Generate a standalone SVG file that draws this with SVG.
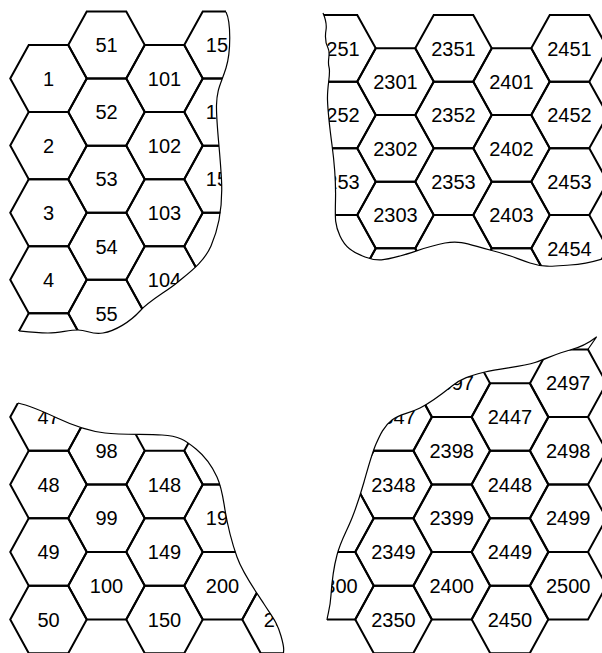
<svg xmlns="http://www.w3.org/2000/svg" width="602" height="653" viewBox="0 0 602 653">
<style>
.hex{fill:none;stroke:#000;stroke-width:2;stroke-linejoin:miter}
.cut{fill:none;stroke:#000;stroke-width:1.2;stroke-linejoin:round}
text{font-family:"Liberation Sans",Arial,sans-serif;font-size:20px;text-anchor:middle;fill:#000}
</style>
<defs>
<path id="hTL" class="hex" d="M-38.25,0 L-19.75,-33.55 L19.75,-33.55 L38.25,0 L19.75,33.55 L-19.75,33.55 Z"/>
<path id="hTR" class="hex" d="M-38.25,0 L-19.75,-33.35 L19.75,-33.35 L38.25,0 L19.75,33.35 L-19.75,33.35 Z"/>
<path id="hB" class="hex" d="M-38.25,0 L-19.75,-33.75 L19.75,-33.75 L38.25,0 L19.75,33.75 L-19.75,33.75 Z"/>
<clipPath id="cTL"><path d="M0,0 L226,0 L226,12 C231,22 231,52 226,68 S217,88 216.5,105 S220,150 221.5,180 S218,230 211,246 S190,272 178,282 S150,300 140,311 S115,331 103,333 S88,330 78,330 S60,333 48,333 S28,332 19,331 L0,331 Z"/></clipPath>
<clipPath id="cTR"><path d="M323,0 L323,13 C326,20 327,24 326,30 S325,42 328,48 S327,60 329,67 S327,85 327.5,100 S330,130 332,145 S336,180 335.5,200 S335,225 340,236 S352,252 365,257 S385,260 400,256 S428,246 445,243 S470,245 490,250 S515,258 530,263 S555,266 570,265 S592,262 602,259 L602,0 Z"/></clipPath>
<clipPath id="cBL"><path d="M0,403 L18,403 C27,405 40,410 57,418 S88,431 105,433 S145,434 162,435 S185,440 196,449 S212,466 217,477 S223,498 225,510 S231,540 237,557 S255,590 264,604 S277,622 281,636 S283.5,648 283.5,653 L0,653 Z"/></clipPath>
<clipPath id="cBR"><path d="M596.5,337 C590,342 582,347 570,350 S548,358 535,362.5 S500,368 485,372 S462,378 452,386 S432,402 420,408 S400,414 392,420 S380,435 376,444 S368,468 364,482 S358,503 352,518 S341,540 337,555 S332,580 331,595 S328,612 327,620 L327,653 L602,653 L602,337 Z"/></clipPath>
</defs>

<g id="top-left" clip-path="url(#cTL)">
<g id="hex-1"><use href="#hTL" x="48.5" y="78.5"/><text x="48.5" y="85.7">1</text></g>
<g id="hex-2"><use href="#hTL" x="48.5" y="145.6"/><text x="48.5" y="152.8">2</text></g>
<g id="hex-3"><use href="#hTL" x="48.5" y="212.7"/><text x="48.5" y="219.9">3</text></g>
<g id="hex-4"><use href="#hTL" x="48.5" y="279.8"/><text x="48.5" y="287">4</text></g>
<g id="hex-5"><use href="#hTL" x="48.5" y="346.9"/></g>
<g id="hex-51"><use href="#hTL" x="106.5" y="45"/><text x="106.5" y="52.2">51</text></g>
<g id="hex-52"><use href="#hTL" x="106.5" y="112.1"/><text x="106.5" y="119.3">52</text></g>
<g id="hex-53"><use href="#hTL" x="106.5" y="179.2"/><text x="106.5" y="186.4">53</text></g>
<g id="hex-54"><use href="#hTL" x="106.5" y="246.3"/><text x="106.5" y="253.5">54</text></g>
<g id="hex-55"><use href="#hTL" x="106.5" y="313.4"/><text x="106.5" y="320.6">55</text></g>
<g id="hex-101"><use href="#hTL" x="164.5" y="78.5"/><text x="164.5" y="85.7">101</text></g>
<g id="hex-102"><use href="#hTL" x="164.5" y="145.6"/><text x="164.5" y="152.8">102</text></g>
<g id="hex-103"><use href="#hTL" x="164.5" y="212.7"/><text x="164.5" y="219.9">103</text></g>
<g id="hex-104"><use href="#hTL" x="164.5" y="279.8"/><text x="164.5" y="287">104</text></g>
<g id="hex-105"><use href="#hTL" x="164.5" y="346.9"/></g>
<g id="hex-151"><use href="#hTL" x="222.5" y="45"/><text x="222.5" y="52.2">151</text></g>
<g id="hex-152"><use href="#hTL" x="222.5" y="112.1"/><text x="222.5" y="119.3">152</text></g>
<g id="hex-153"><use href="#hTL" x="222.5" y="179.2"/><text x="222.5" y="186.4">153</text></g>
<g id="hex-154"><use href="#hTL" x="222.5" y="246.3"/></g>
</g>

<g id="top-right" clip-path="url(#cTR)">
<g id="hex-2251"><use href="#hTR" x="337.5" y="48.3"/><text x="337.5" y="55.5">2251</text></g>
<g id="hex-2252"><use href="#hTR" x="337.5" y="115"/><text x="337.5" y="122.2">2252</text></g>
<g id="hex-2253"><use href="#hTR" x="337.5" y="181.7"/><text x="337.5" y="188.9">2253</text></g>
<g id="hex-2254"><use href="#hTR" x="337.5" y="248.4"/></g>
<g id="hex-2301"><use href="#hTR" x="395.5" y="81.6"/><text x="395.5" y="88.8">2301</text></g>
<g id="hex-2302"><use href="#hTR" x="395.5" y="148.3"/><text x="395.5" y="155.5">2302</text></g>
<g id="hex-2303"><use href="#hTR" x="395.5" y="215"/><text x="395.5" y="222.2">2303</text></g>
<g id="hex-2304"><use href="#hTR" x="395.5" y="281.7"/></g>
<g id="hex-2351"><use href="#hTR" x="453.5" y="48.3"/><text x="453.5" y="55.5">2351</text></g>
<g id="hex-2352"><use href="#hTR" x="453.5" y="115"/><text x="453.5" y="122.2">2352</text></g>
<g id="hex-2353"><use href="#hTR" x="453.5" y="181.7"/><text x="453.5" y="188.9">2353</text></g>
<g id="hex-2354"><use href="#hTR" x="453.5" y="248.4"/></g>
<g id="hex-2401"><use href="#hTR" x="511.5" y="81.6"/><text x="511.5" y="88.8">2401</text></g>
<g id="hex-2402"><use href="#hTR" x="511.5" y="148.3"/><text x="511.5" y="155.5">2402</text></g>
<g id="hex-2403"><use href="#hTR" x="511.5" y="215"/><text x="511.5" y="222.2">2403</text></g>
<g id="hex-2404"><use href="#hTR" x="511.5" y="281.7"/></g>
<g id="hex-2451"><use href="#hTR" x="569.5" y="48.3"/><text x="569.5" y="55.5">2451</text></g>
<g id="hex-2452"><use href="#hTR" x="569.5" y="115"/><text x="569.5" y="122.2">2452</text></g>
<g id="hex-2453"><use href="#hTR" x="569.5" y="181.7"/><text x="569.5" y="188.9">2453</text></g>
<g id="hex-2454"><use href="#hTR" x="569.5" y="248.4"/><text x="569.5" y="255.6">2454</text></g>
</g>

<g id="bottom-left" clip-path="url(#cBL)">
<g id="hex-47"><use href="#hB" x="48.5" y="417"/><text x="48.5" y="424.2">47</text></g>
<g id="hex-48"><use href="#hB" x="48.5" y="484.5"/><text x="48.5" y="491.7">48</text></g>
<g id="hex-49"><use href="#hB" x="48.5" y="552"/><text x="48.5" y="559.2">49</text></g>
<g id="hex-50"><use href="#hB" x="48.5" y="619.5"/><text x="48.5" y="626.7">50</text></g>
<g id="hex-98"><use href="#hB" x="106.5" y="450.75"/><text x="106.5" y="457.95">98</text></g>
<g id="hex-99"><use href="#hB" x="106.5" y="518.25"/><text x="106.5" y="525.45">99</text></g>
<g id="hex-100"><use href="#hB" x="106.5" y="585.75"/><text x="106.5" y="592.95">100</text></g>
<g id="hex-148"><use href="#hB" x="164.5" y="484.5"/><text x="164.5" y="491.7">148</text></g>
<g id="hex-149"><use href="#hB" x="164.5" y="552"/><text x="164.5" y="559.2">149</text></g>
<g id="hex-150"><use href="#hB" x="164.5" y="619.5"/><text x="164.5" y="626.7">150</text></g>
<g id="hex-198"><use href="#hB" x="222.5" y="450.75"/></g>
<g id="hex-199"><use href="#hB" x="222.5" y="518.25"/><text x="222.5" y="525.45">199</text></g>
<g id="hex-200"><use href="#hB" x="222.5" y="585.75"/><text x="222.5" y="592.95">200</text></g>
<g id="hex-250"><use href="#hB" x="280.5" y="619.5"/><text x="280.5" y="626.7">250</text></g>
</g>

<g id="bottom-right" clip-path="url(#cBR)">
<g id="hex-2299"><use href="#hB" x="335.5" y="518.25"/></g>
<g id="hex-2300"><use href="#hB" x="335.5" y="585.75"/><text x="335.5" y="592.95">2300</text></g>
<g id="hex-2347"><use href="#hB" x="393.5" y="417"/><text x="393.5" y="424.2">2347</text></g>
<g id="hex-2348"><use href="#hB" x="393.5" y="484.5"/><text x="393.5" y="491.7">2348</text></g>
<g id="hex-2349"><use href="#hB" x="393.5" y="552"/><text x="393.5" y="559.2">2349</text></g>
<g id="hex-2350"><use href="#hB" x="393.5" y="619.5"/><text x="393.5" y="626.7">2350</text></g>
<g id="hex-2397"><use href="#hB" x="451.75" y="383.25"/><text x="451.75" y="390.45">2397</text></g>
<g id="hex-2398"><use href="#hB" x="451.75" y="450.75"/><text x="451.75" y="457.95">2398</text></g>
<g id="hex-2399"><use href="#hB" x="451.75" y="518.25"/><text x="451.75" y="525.45">2399</text></g>
<g id="hex-2400"><use href="#hB" x="451.75" y="585.75"/><text x="451.75" y="592.95">2400</text></g>
<g id="hex-2447"><use href="#hB" x="510" y="417"/><text x="510" y="424.2">2447</text></g>
<g id="hex-2448"><use href="#hB" x="510" y="484.5"/><text x="510" y="491.7">2448</text></g>
<g id="hex-2449"><use href="#hB" x="510" y="552"/><text x="510" y="559.2">2449</text></g>
<g id="hex-2450"><use href="#hB" x="510" y="619.5"/><text x="510" y="626.7">2450</text></g>
<g id="hex-2497"><use href="#hB" x="568.25" y="383.25"/><text x="568.25" y="390.45">2497</text></g>
<g id="hex-2498"><use href="#hB" x="568.25" y="450.75"/><text x="568.25" y="457.95">2498</text></g>
<g id="hex-2499"><use href="#hB" x="568.25" y="518.25"/><text x="568.25" y="525.45">2499</text></g>
<g id="hex-2500"><use href="#hB" x="568.25" y="585.75"/><text x="568.25" y="592.95">2500</text></g>
</g>

<g id="cut-edges">
<path class="cut" d="M226,12 C231,22 231,52 226,68 S217,88 216.5,105 S220,150 221.5,180 S218,230 211,246 S190,272 178,282 S150,300 140,311 S115,331 103,333 S88,330 78,330 S60,333 48,333 S28,332 19,331"/>
<path class="cut" d="M323,13 C326,20 327,24 326,30 S325,42 328,48 S327,60 329,67 S327,85 327.5,100 S330,130 332,145 S336,180 335.5,200 S335,225 340,236 S352,252 365,257 S385,260 400,256 S428,246 445,243 S470,245 490,250 S515,258 530,263 S555,266 570,265 S592,262 602,259"/>
<path class="cut" d="M18,403 C27,405 40,410 57,418 S88,431 105,433 S145,434 162,435 S185,440 196,449 S212,466 217,477 S223,498 225,510 S231,540 237,557 S255,590 264,604 S277,622 281,636 S283.5,648 283.5,653"/>
<path class="cut" d="M587.5,350 L596.5,337 C590,342 582,347 570,350 S548,358 535,362.5 S500,368 485,372 S462,378 452,386 S432,402 420,408 S400,414 392,420 S380,435 376,444 S368,468 364,482 S358,503 352,518 S341,540 337,555 S332,580 331,595 S328,612 327,620"/>
</g>
</svg>
